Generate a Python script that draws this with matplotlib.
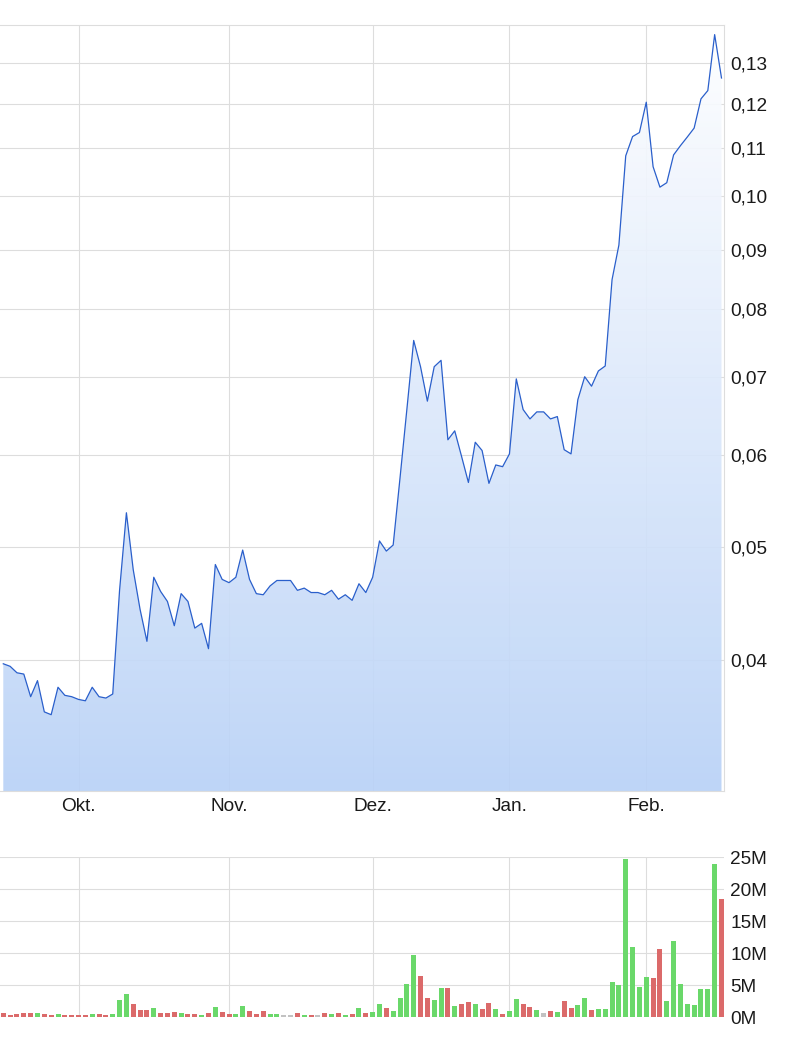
import numpy as np
import matplotlib.pyplot as plt
from matplotlib.colors import LinearSegmentedColormap
from matplotlib.ticker import NullLocator

plt.rcParams['font.family'] = ['Liberation Sans', 'DejaVu Sans']

# daily close (one value per trading day)
price = [0.0397, 0.0395, 0.0390, 0.0389, 0.0372, 0.0384, 0.0361, 0.0359, 0.0379, 0.0373,
         0.0372, 0.0370, 0.0369, 0.0379, 0.0372, 0.0371, 0.0374, 0.0459, 0.0535, 0.0478,
         0.0442, 0.0415, 0.0471, 0.0458, 0.0449, 0.0428, 0.0456, 0.0449, 0.0426, 0.0430,
         0.0409, 0.0483, 0.0469, 0.0466, 0.0471, 0.0497, 0.0469, 0.0456, 0.0455, 0.0463,
         0.0468, 0.0468, 0.0468, 0.0459, 0.0461, 0.0457, 0.0457, 0.0455, 0.0459, 0.0451,
         0.0455, 0.0450, 0.0465, 0.0457, 0.0471, 0.0506, 0.0496, 0.0502, 0.0573, 0.0656,
         0.0752, 0.0714, 0.0667, 0.0714, 0.0723, 0.0618, 0.0629, 0.0598, 0.0568, 0.0615,
         0.0605, 0.0567, 0.0588, 0.0586, 0.0601, 0.0697, 0.0656, 0.0644, 0.0653, 0.0653,
         0.0644, 0.0647, 0.0606, 0.0601, 0.0669, 0.0700, 0.0687, 0.0708, 0.0715, 0.0848,
         0.0908, 0.1083, 0.1125, 0.1134, 0.1204, 0.1060, 0.1018, 0.1027, 0.1085, 0.1105,
         0.1124, 0.1144, 0.1212, 0.1232, 0.1376, 0.1263]

# daily volume in millions
volume_m = [0.58, 0.26, 0.42, 0.58, 0.58, 0.58, 0.42, 0.26, 0.42, 0.26,
            0.26, 0.26, 0.26, 0.42, 0.42, 0.26, 0.42, 2.6, 3.56, 1.99,
            1.05, 1.05, 1.36, 0.58, 0.58, 0.73, 0.58, 0.42, 0.42, 0.26,
            0.58, 1.52, 0.73, 0.42, 0.42, 1.67, 0.89, 0.42, 0.89, 0.42,
            0.42, 0.26, 0.26, 0.58, 0.26, 0.26, 0.26, 0.58, 0.42, 0.58,
            0.26, 0.42, 1.36, 0.58, 0.73, 1.99, 1.36, 0.89, 2.9, 5.1,
            9.65, 6.37, 2.92, 2.6, 4.49, 4.49, 1.67, 1.98, 2.3, 1.98,
            1.2, 2.14, 1.2, 0.42, 0.89, 2.77, 1.98, 1.51, 1.04, 0.57,
            0.89, 0.73, 2.45, 1.36, 1.83, 2.92, 1.04, 1.2, 1.2, 5.43,
            4.96, 24.7, 10.9, 4.65, 6.2, 6.05, 10.6, 2.45, 11.85, 5.1,
            1.98, 1.83, 4.33, 4.33, 23.9, 18.4]

# g = up day, r = down day, n = unchanged
direction = list("rrrrrgrrgrrrrgrrgggrrrgrrrgrrgrgrrggrrrggnnrgrnrgrgrgrggrgggg"
                 "rrggrgrrgrrgrggrrgnrgrrggrggggggggrrggggggggr")

month_labels = ['Okt.', 'Nov.', 'Dez.', 'Jan.', 'Feb.']
month_pos = [11, 33, 54, 74, 94]
price_ticks = [0.04, 0.05, 0.06, 0.07, 0.08, 0.09, 0.10, 0.11, 0.12, 0.13]
vol_ticks = [0, 5, 10, 15, 20, 25]

bar_colors = {'g': '#6ad86a', 'r': '#db6a6a', 'n': '#c2c2c2'}
grid_col = '#dddddd'
label_size = 13.7
x = np.arange(len(price))
xmin, xmax = -0.48, 105.37
ymin, ymax = 0.030876, 0.14024

fig = plt.figure(figsize=(7.98, 10.37), dpi=100)
ax = fig.add_axes([0, 0.23722, 0.9073, 0.73867])
axv = fig.add_axes([0, 0.019286, 0.9073, 0.15429])

# ---- price panel
ax.set_yscale('log')
ax.set_xlim(xmin, xmax)
ax.set_ylim(ymin, ymax)
ax.set_autoscale_on(False)

poly = ax.fill_between(x, price, ymin, facecolor='none', edgecolor='none')
grad = np.linspace(0, 1, 256).reshape(-1, 1)
cmap = LinearSegmentedColormap.from_list('fade', ['#b9d2f7', '#ffffff'])
img = ax.imshow(grad, extent=[0, 1, 0, 1], transform=ax.transAxes, origin='lower',
                cmap=cmap, aspect='auto', zorder=1, alpha=0.92)
img.set_clip_path(poly.get_paths()[0], transform=ax.transData)
ax.set_xlim(xmin, xmax)
ax.set_ylim(ymin, ymax)

ax.plot(x, price, color='#2a5fcb', lw=0.9, zorder=3)

ax.set_yticks(price_ticks)
ax.yaxis.set_minor_locator(NullLocator())
ax.set_yticklabels([f"{t:.2f}".replace('.', ',') for t in price_ticks])
ax.set_xticks(month_pos)
ax.set_xticklabels(month_labels)
ax.yaxis.tick_right()
ax.tick_params(axis='y', length=0, pad=4.5, labelsize=label_size, labelcolor='#1a1a1a')
ax.tick_params(axis='x', length=0, pad=5.0, labelsize=label_size, labelcolor='#1a1a1a')
ax.set_axisbelow(True)
ax.grid(True, color=grid_col, lw=0.8)
for side in ['top', 'right', 'bottom']:
    ax.spines[side].set_color(grid_col)
    ax.spines[side].set_linewidth(0.8)
ax.spines['left'].set_visible(False)

# ---- volume panel
axv.bar(x, volume_m, width=0.73, color=[bar_colors[d] for d in direction], zorder=2)
axv.set_xlim(xmin, xmax)
axv.set_ylim(0, 25)
axv.set_yticks(vol_ticks)
axv.set_yticklabels([f"{v}M" for v in vol_ticks])
axv.set_xticks(month_pos)
axv.set_xticklabels([])
axv.yaxis.tick_right()
axv.tick_params(axis='y', length=0, pad=4.5, labelsize=label_size, labelcolor='#1a1a1a')
axv.tick_params(axis='x', length=0)
axv.set_axisbelow(True)
axv.grid(True, color=grid_col, lw=0.8)
for s in axv.spines.values():
    s.set_visible(False)

fig.savefig('out.png', dpi=100)
